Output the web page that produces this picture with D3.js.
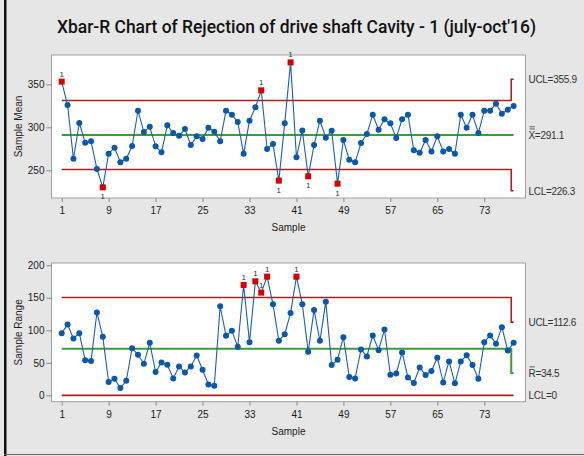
<!DOCTYPE html>
<html>
<head>
<meta charset="utf-8">
<title>Xbar-R Chart</title>
<script src="https://d3js.org/d3.v7.min.js" charset="utf-8"></script>
<style>
	body { margin: 0; background: #e6e6e6; }
	svg text { font-family: 'Liberation Sans', Arial, sans-serif; fill: #222; }
</style>
</head>
<body>
<script>
	// subgroup means, samples 1..78
	var means = [353.1, 325.9, 263.5, 305.0, 282.1, 283.7, 251.6, 230.2, 269.3, 276.3,
		259.3, 263.5, 278.3, 319.3, 294.5, 300.7, 277.9, 270.9, 302.3, 293.4,
		290.3, 298.0, 279.4, 289.5, 286.4, 299.6, 294.9, 283.7, 319.3, 314.7,
		306.2, 269.3, 307.7, 323.2, 343.0, 274.8, 280.6, 238.0, 304.6, 375.5,
		265.1, 296.3, 243.0, 279.4, 307.7, 288.0, 296.0, 234.5, 285.2, 262.3,
		259.3, 281.8, 292.2, 314.7, 297.3, 309.3, 304.6, 287.6, 309.3, 314.7,
		273.2, 270.5, 285.2, 272.0, 289.5, 272.0, 274.8, 269.3, 314.7, 299.6,
		314.7, 293.4, 319.3, 319.3, 327.5, 315.9, 320.5, 324.8];
	// subgroup ranges
	var ranges = [95.6, 108.8, 87.4, 95.6, 54.1, 52.6, 127.4, 89.9, 20.4, 25.5,
		11.2, 22.4, 72.5, 62.3, 48.5, 80.7, 35.7, 50.6, 47.0, 26.0,
		44.4, 35.2, 44.4, 61.3, 39.3, 16.8, 14.8, 137.0, 91.5, 99.2,
		74.6, 169.7, 81.8, 175.3, 157.9, 182.5, 140.0, 83.8, 94.0, 126.7,
		182.5, 140.0, 66.9, 131.3, 83.8, 144.1, 46.5, 54.7, 89.5, 28.1,
		26.0, 70.5, 59.8, 92.0, 69.5, 101.2, 31.6, 33.7, 65.9, 27.6,
		18.9, 42.9, 31.2, 37.3, 57.8, 19.9, 52.1, 18.4, 52.1, 61.8,
		46.5, 25.5, 81.8, 92.0, 79.2, 104.8, 69.0, 80.7];

	var xTicks = [1, 9, 17, 25, 33, 41, 49, 57, 65, 73];
	var meanTicks = [250, 300, 350];
	var rangeTicks = [0, 50, 100, 150, 200];

	// limits before / after the last subgroup
	var meanUCL = [331.2, 355.9];
	var meanCL = [291.1, 291.1];
	var meanLCL = [251.0, 226.3];
	var rangeUCL = [150.5, 112.6];
	var rangeCL = [71.5, 34.5];
	var rangeLCL = [0, 0];
	var stepAt = 77.6;

	var W = 584, H = 456;
	var left = 51.5, right = 525.5;
	var n = means.length;

	var svg = d3.select('body').append('svg')
		.attr('width', W)
		.attr('height', H);

	svg.append('rect').attr('width', W).attr('height', H).attr('fill', '#e6e6e6');
	svg.append('rect').attr('x', 4).attr('y', 0).attr('width', 2.5).attr('height', H).attr('fill', '#111');
	svg.append('line').attr('x1', 4).attr('x2', W).attr('y1', 454.5).attr('y2', 454.5)
		.attr('stroke', '#666').attr('stroke-width', 1);

	svg.append('text')
		.text("Xbar-R Chart of Rejection of drive shaft Cavity - 1 (july-oct'16)")
		.attr('x', 296.5)
		.attr('y', 33)
		.attr('text-anchor', 'middle')
		.attr('textLength', 479)
		.attr('lengthAdjust', 'spacingAndGlyphs')
		.style('font-family', 'Roboto, sans-serif')
		.style('font-weight', 500)
		.style('font-size', '19px')
		.style('fill', '#111');

	var x = d3.scaleLinear().domain([1, n]).range([61.7, 513.6]);

	draw_panel({
		top: 55, bottom: 198, domain: [217.8, 384.1],
		values: means, ticks: meanTicks,
		ucl: meanUCL, cl: meanCL, lcl: meanLCL,
		ylabel: 'Sample Mean',
		names: ['UCL=', 'X=', 'LCL='], bars: 2
	});

	draw_panel({
		top: 263, bottom: 401.7, domain: [-9.8, 203.5],
		values: ranges, ticks: rangeTicks,
		ucl: rangeUCL, cl: rangeCL, lcl: rangeLCL,
		ylabel: 'Sample Range',
		names: ['UCL=', 'R=', 'LCL='], bars: 1
	});

	function draw_panel(c) {
		var y = d3.scaleLinear().domain(c.domain).range([c.bottom, c.top]);
		var g = svg.append('g');

		g.append('rect')
			.attr('x', left).attr('y', c.top)
			.attr('width', right - left).attr('height', c.bottom - c.top)
			.attr('fill', '#fff').attr('stroke', '#a0a0a0').attr('stroke-width', 1);

		var yAxis = g.append('g')
			.attr('transform', 'translate(' + left + ',0)')
			.call(d3.axisLeft(y).tickValues(c.ticks).tickSize(5).tickPadding(2));
		var xAxis = g.append('g')
			.attr('transform', 'translate(0,' + c.bottom + ')')
			.call(d3.axisBottom(x).tickValues(xTicks).tickSize(4).tickPadding(5));
		[yAxis, xAxis].forEach(function (a) {
			a.select('.domain').remove();
			a.selectAll('line').attr('stroke', '#888');
			a.selectAll('text').style('font-size', '10px').style('font-family', null).style('fill', '#1a1a1a');
		});

		g.append('text')
			.text(c.ylabel)
			.attr('transform', 'translate(22,' + (c.top + c.bottom) / 2 + ') rotate(-90)')
			.attr('text-anchor', 'middle')
			.style('font-size', '10px');
		g.append('text')
			.text('Sample')
			.attr('x', (left + right) / 2)
			.attr('y', c.bottom + 33)
			.attr('text-anchor', 'middle')
			.style('font-size', '10px');

		var step = function (v) {
			return [[1, v[0]], [stepAt, v[0]], [stepAt, v[1]], [n, v[1]]];
		};
		var line = d3.line().x(function (d) { return x(d[0]); }).y(function (d) { return y(d[1]); });

		[[c.ucl, '#a8201f', 1.6], [c.lcl, '#a8201f', 1.6], [c.cl, '#3d9a3d', 2]].forEach(function (l) {
			g.append('path')
				.attr('d', line(step(l[0])))
				.attr('fill', 'none')
				.attr('stroke', l[1])
				.attr('stroke-width', l[2]);
		});

		var labels = [c.ucl[1], c.cl[1], c.lcl[1]];
		labels.forEach(function (v, i) {
			g.append('text')
				.text(c.names[i] + v)
				.attr('x', 528.5)
				.attr('y', y(v) + 4)
				.style('font-size', '10px')
				.style('letter-spacing', '-0.3px')
				.style('fill', '#333');
		});
		// bar marks over X / R
		d3.range(c.bars).forEach(function (b) {
			g.append('line')
				.attr('x1', 529.5).attr('x2', 535)
				.attr('y1', y(c.cl[1]) - 6 - b * 2.2)
				.attr('y2', y(c.cl[1]) - 6 - b * 2.2)
				.attr('stroke', '#444')
				.attr('stroke-width', 0.8);
		});

		g.append('path')
			.datum(c.values)
			.attr('d', d3.line().x(function (d, i) { return x(i + 1); }).y(function (d) { return y(d); }))
			.attr('fill', 'none')
			.attr('stroke', '#1d5fae')
			.attr('stroke-width', 1.1);

		var pts = c.values.map(function (v, i) {
			var k = (i + 1) > stepAt ? 1 : 0;
			return {
				i: i + 1, v: v,
				hi: v > c.ucl[k], lo: v < c.lcl[k]
			};
		});

		g.selectAll('circle')
			.data(pts.filter(function (d) { return !d.hi && !d.lo; }))
			.enter()
			.append('circle')
			.attr('cx', function (d) { return x(d.i); })
			.attr('cy', function (d) { return y(d.v); })
			.attr('r', 3)
			.attr('fill', '#0b57a8');

		var bad = pts.filter(function (d) { return d.hi || d.lo; });
		g.selectAll('rect.bad')
			.data(bad)
			.enter()
			.append('rect')
			.attr('class', 'bad')
			.attr('x', function (d) { return x(d.i) - 3; })
			.attr('y', function (d) { return y(d.v) - 3; })
			.attr('width', 6)
			.attr('height', 6)
			.attr('fill', '#d00000');

		g.selectAll('text.flag')
			.data(bad)
			.enter()
			.append('text')
			.attr('class', 'flag')
			.text('1')
			.attr('x', function (d) { return x(d.i); })
			.attr('y', function (d) { return d.hi ? y(d.v) - 5 : y(d.v) + 12; })
			.attr('text-anchor', 'middle')
			.style('font-size', '8px')
			.style('fill', '#333');
	}
</script>
</body>
</html>
